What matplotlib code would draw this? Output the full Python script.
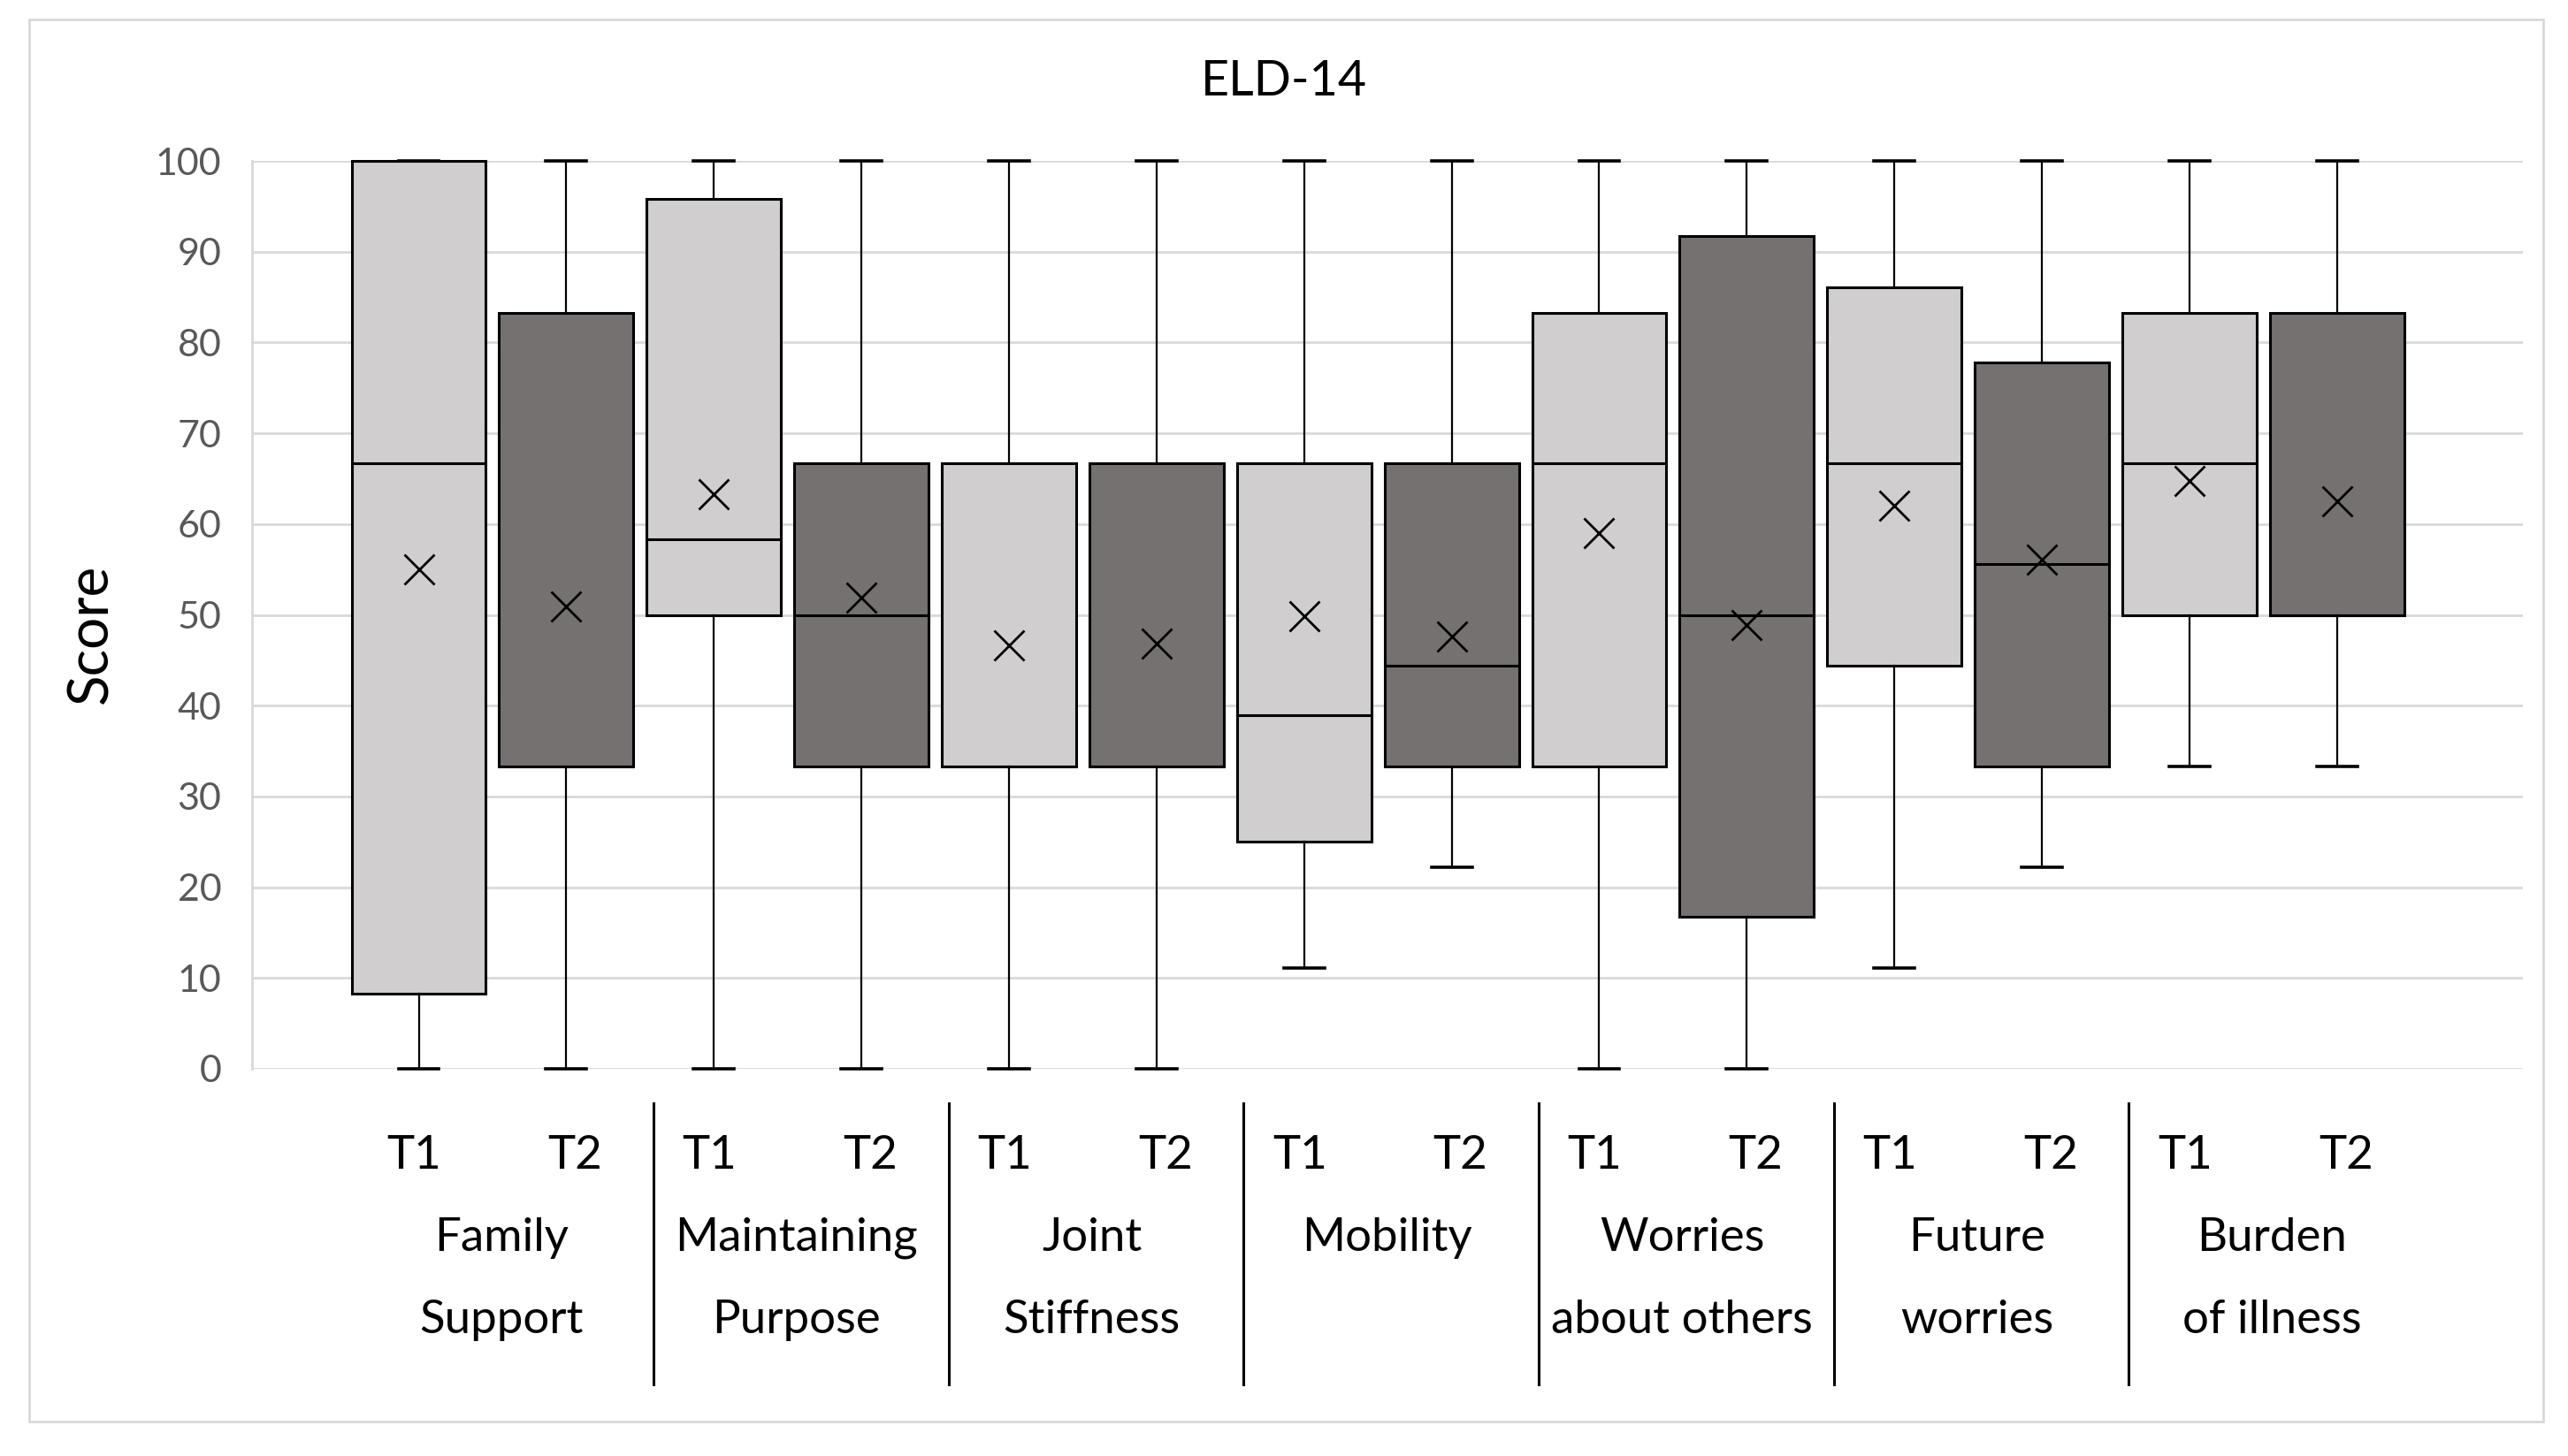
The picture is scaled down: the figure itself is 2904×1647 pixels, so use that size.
import matplotlib.pyplot as plt
import matplotlib.transforms as mtransforms
from matplotlib.lines import Line2D
from matplotlib.patches import Rectangle

plt.rcParams['font.family'] = ['Lato', 'DejaVu Sans']

categories = [("Family", "Support"), ("Maintaining", "Purpose"), ("Joint", "Stiffness"),
              ("Mobility", ""), ("Worries", "about others"), ("Future", "worries"),
              ("Burden", "of illness")]
times = ["T1", "T2"]

# T1 statistics per category
t1_low = [0, 0, 0, 11.1, 0, 11.1, 33.3]
t1_q1 = [8.3, 50, 33.3, 25, 33.3, 44.4, 50]
t1_med = [66.7, 58.3, 33.3, 38.9, 66.7, 66.7, 66.7]
t1_q3 = [100, 95.8, 66.7, 66.7, 83.3, 86.1, 83.3]
t1_high = [100, 100, 100, 100, 100, 100, 100]
t1_mean = [55.0, 63.3, 46.6, 49.9, 59.0, 62.0, 64.8]

# T2 statistics per category
t2_low = [0, 0, 0, 22.2, 0, 22.2, 33.3]
t2_q1 = [33.3, 33.3, 33.3, 33.3, 16.7, 33.3, 50]
t2_med = [33.3, 50, 33.3, 44.4, 50, 55.6, 50]
t2_q3 = [83.3, 66.7, 66.7, 66.7, 91.7, 77.8, 83.3]
t2_high = [100, 100, 100, 100, 100, 100, 100]
t2_mean = [50.9, 51.9, 46.8, 47.6, 48.9, 56.1, 62.5]

yticks = list(range(0, 101, 10))

W, H = 2904, 1647
light = "#D0CECE"
dark = "#767171"
grid_col = "#D9D9D9"

fig = plt.figure(figsize=(W / 100, H / 100), dpi=100)
ax = fig.add_axes([285 / W, 1 - 1209 / H, (2853 - 285) / W, (1209 - 182) / H])

stats = []
colors = []
for i in range(len(categories)):
    stats.append(dict(whislo=t1_low[i], q1=t1_q1[i], med=t1_med[i], q3=t1_q3[i],
                      whishi=t1_high[i], mean=t1_mean[i], fliers=[]))
    colors.append(light)
    stats.append(dict(whislo=t2_low[i], q1=t2_q1[i], med=t2_med[i], q3=t2_q3[i],
                      whishi=t2_high[i], mean=t2_mean[i], fliers=[]))
    colors.append(dark)

positions = list(range(len(stats)))
bp = ax.bxp(stats, positions=positions, widths=0.91, capwidths=0.275,
            patch_artist=True, showmeans=True, showfliers=False,
            boxprops=dict(edgecolor="black", linewidth=2.2),
            medianprops=dict(color="black", linewidth=2.2),
            whiskerprops=dict(color="black", linewidth=1.6),
            capprops=dict(color="black", linewidth=2.6),
            meanprops=dict(marker="x", markeredgecolor="black", markersize=24,
                           markeredgewidth=2.0))
for patch, c in zip(bp["boxes"], colors):
    patch.set_facecolor(c)
for key in ["boxes", "medians", "whiskers", "caps", "means"]:
    for art in bp[key]:
        art.set_clip_on(False)
        art.set_zorder(3)

ax.set_xlim(-1.13, 14.26)
ax.set_ylim(0, 100)
ax.set_yticks(yticks)
ax.set_xticks([])
ax.tick_params(axis="y", length=0, pad=25, labelsize=31, labelcolor="#595959")
ax.yaxis.grid(True, color=grid_col, linewidth=2)
ax.set_axisbelow(True)
for s in ["top", "right", "bottom"]:
    ax.spines[s].set_visible(False)
ax.spines["left"].set_color(grid_col)
ax.spines["left"].set_linewidth(2)

fig.text(1452 / W, 1 - 93 / H, "ELD-14", ha="center", va="center", fontsize=40)
fig.text(103 / W, 1 - 717 / H, "Score", rotation=90, ha="center", va="center", fontsize=46)

# category labels below the axis
trans = mtransforms.blended_transform_factory(ax.transData, fig.transFigure)
for i, (line1, line2) in enumerate(categories):
    p1, p2 = 2 * i, 2 * i + 1
    ax.text(p1 - 0.03, 1 - 1322 / H, times[0], transform=trans, ha="center",
            va="baseline", fontsize=38)
    ax.text(p2 + 0.06, 1 - 1322 / H, times[1], transform=trans, ha="center",
            va="baseline", fontsize=38)
    mid = (p1 + p2) / 2 + 0.06
    ax.text(mid, 1 - 1415 / H, line1, transform=trans, ha="center",
            va="baseline", fontsize=38)
    if line2:
        ax.text(mid, 1 - 1508 / H, line2, transform=trans, ha="center",
                va="baseline", fontsize=38)
    if i > 0:
        sx = p1 - 0.5 + 0.09
        ax.add_line(Line2D([sx, sx], [1 - 1248 / H, 1 - 1566 / H], transform=trans,
                           color="black", linewidth=2.2, clip_on=False))

# outer chart frame
fig.patches.append(Rectangle((33 / W, 1 - 1608 / H), (2876 - 33) / W, (1608 - 22) / H,
                             transform=fig.transFigure, fill=False,
                             edgecolor=grid_col, linewidth=2))

fig.savefig("out.png", dpi=100, facecolor="white")
